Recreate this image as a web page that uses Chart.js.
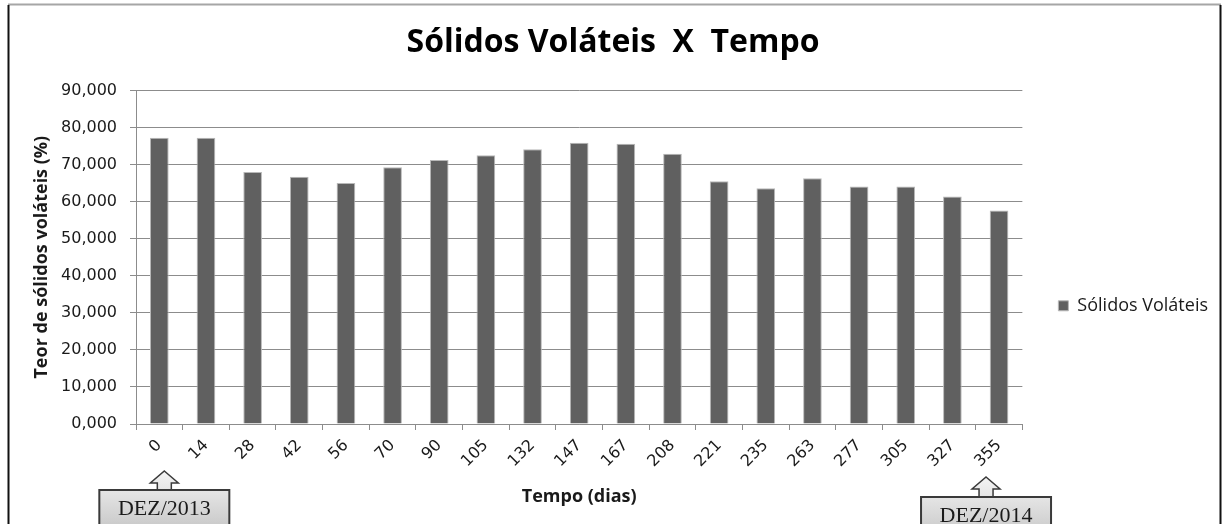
<!DOCTYPE html>
<html>
<head>
<meta charset="utf-8">
<script src="https://cdn.jsdelivr.net/npm/chart.js@4.4.1/dist/chart.umd.min.js"></script>
<style>
  html, body { margin: 0; padding: 0; background: #ffffff; }
</style>
</head>
<body>
<canvas id="solidosChart" width="1226" height="524"></canvas>
<script>
const dias = ['0', '14', '28', '42', '56', '70', '90', '105', '132', '147', '167', '208', '221', '235', '263', '277', '305', '327', '355'];
const solidosVolateis = [77.2, 77.2, 68.0, 66.7, 65.0, 69.3, 71.2, 72.5, 74.1, 75.9, 75.6, 72.9, 65.5, 63.6, 66.3, 64.1, 64.1, 61.4, 57.6];
const yTicks = [0, 10, 20, 30, 40, 50, 60, 70, 80, 90];
const marcos = ['DEZ/2013', 'DEZ/2014'];
const marcoIndices = [0, 18];

const corEixo = '#8c8c8c';
const corTexto = '#1a1a1a';

// moldura do gráfico (como no Excel)
const molduraPlugin = {
    id: 'moldura',
    beforeDraw(chart) {
        const ctx = chart.ctx;
        ctx.save();
        ctx.fillStyle = '#ffffff';
        ctx.fillRect(0, 0, chart.width, chart.height);
        ctx.strokeStyle = '#a6a6a6';
        ctx.lineWidth = 2;
        ctx.beginPath();
        ctx.moveTo(8, 4.5);
        ctx.lineTo(1221, 4.5);
        ctx.stroke();
        ctx.strokeStyle = '#111111';
        ctx.lineWidth = 2;
        ctx.beginPath();
        ctx.moveTo(8.5, 5);
        ctx.lineTo(8.5, chart.height);
        ctx.moveTo(1220.5, 5);
        ctx.lineTo(1220.5, chart.height);
        ctx.stroke();
        ctx.restore();
    }
};

// caixas "DEZ/2013" e "DEZ/2014" com seta para cima
const marcosPlugin = {
    id: 'marcos',
    afterDraw(chart, args, opts) {
        const ctx = chart.ctx;
        const xScale = chart.scales.x;
        marcos.forEach((texto, i) => {
            const cx = xScale.getPixelForValue(marcoIndices[i]) + opts.dx[i];
            const tipY = opts.tipY[i];
            const boxTop = opts.boxTop[i];
            const w = 130, h = 44;

            const grad = ctx.createLinearGradient(0, tipY, 0, boxTop + h);
            grad.addColorStop(0, '#f4f4f4');
            grad.addColorStop(1, '#c4c4c4');

            ctx.save();
            ctx.fillStyle = grad;
            ctx.strokeStyle = '#3a3a3a';
            ctx.lineWidth = 1.5;
            ctx.beginPath();
            ctx.moveTo(cx, tipY);
            ctx.lineTo(cx + 14, tipY + 12);
            ctx.lineTo(cx + 7, tipY + 12);
            ctx.lineTo(cx + 7, boxTop);
            ctx.lineTo(cx - 7, boxTop);
            ctx.lineTo(cx - 7, tipY + 12);
            ctx.lineTo(cx - 14, tipY + 12);
            ctx.closePath();
            ctx.fill();
            ctx.stroke();

            ctx.lineWidth = 2;
            ctx.fillRect(cx - w / 2, boxTop, w, h);
            ctx.strokeRect(cx - w / 2, boxTop, w, h);

            ctx.fillStyle = corTexto;
            ctx.font = '22px "Liberation Serif", serif';
            ctx.textAlign = 'center';
            ctx.textBaseline = 'alphabetic';
            ctx.fillText(texto, cx, boxTop + 25);
            ctx.restore();
        });
    }
};

const ctx = document.getElementById('solidosChart').getContext('2d');

const chartData = {
    labels: dias,
    datasets: [{
        label: 'Sólidos Voláteis',
        data: solidosVolateis,
        backgroundColor: '#606060',
        borderColor: '#b8b8b8',
        borderWidth: 1,
        barPercentage: 0.4,
        categoryPercentage: 1.0
    }]
};

const chartOptions = {
    responsive: false,
    animation: false,
    devicePixelRatio: 1,
    layout: {
        padding: { left: 8, right: 8, top: 4, bottom: 0 }
    },
    scales: {
        y: {
            min: 0,
            max: 90,
            afterBuildTicks: (scale) => {
                scale.ticks = yTicks.map(v => ({ value: v }));
            },
            afterFit: (scale) => {
                scale.width = 128;
            },
            ticks: {
                color: corTexto,
                padding: 13,
                font: { family: 'DejaVu Sans', size: 16 },
                callback: (v) => v.toFixed(3).replace('.', ',')
            },
            grid: {
                color: corEixo,
                lineWidth: 1,
                tickLength: 6
            },
            border: { color: corEixo, width: 1 },
            title: {
                display: true,
                text: 'Teor de sólidos voláteis (%)',
                color: corTexto,
                font: { family: 'Open Sans', size: 18, weight: 'bold' },
                padding: { top: 23, bottom: 0 }
            }
        },
        x: {
            afterFit: (scale) => {
                scale.height = 100;
            },
            ticks: {
                color: corTexto,
                minRotation: 45,
                maxRotation: 45,
                padding: 6,
                autoSkip: false,
                font: { family: 'DejaVu Sans', size: 16 }
            },
            grid: {
                color: corEixo,
                drawOnChartArea: false,
                tickLength: 6
            },
            border: { color: corEixo, width: 1 },
            title: {
                display: true,
                text: 'Tempo (dias)',
                color: corTexto,
                font: { family: 'Open Sans', size: 18, weight: 'bold' },
                padding: { top: 0, bottom: 16 }
            }
        }
    },
    plugins: {
        title: {
            display: true,
            text: 'Sólidos Voláteis  X  Tempo',
            color: '#000000',
            font: { family: 'Open Sans', size: 32, weight: 'bold' },
            padding: { top: 20, bottom: 28 }
        },
        legend: {
            position: 'right',
            // título vazio só para descer a legenda até o meio da área abaixo do título
            title: {
                display: true,
                text: ' ',
                font: { family: 'Open Sans', size: 18 },
                padding: { top: 62, bottom: 0 }
            },
            labels: {
                color: corTexto,
                boxWidth: 10,
                boxHeight: 10,
                padding: 36,
                font: { family: 'Open Sans', size: 18 }
            }
        },
        tooltip: { enabled: false },
        marcos: {
            dx: [5, -13],
            tipY: [471, 477],
            boxTop: [490, 497]
        }
    }
};

const solidosChart = new Chart(ctx, {
    type: 'bar',
    data: chartData,
    options: chartOptions,
    plugins: [molduraPlugin, marcosPlugin]
});
</script>
</body>
</html>
